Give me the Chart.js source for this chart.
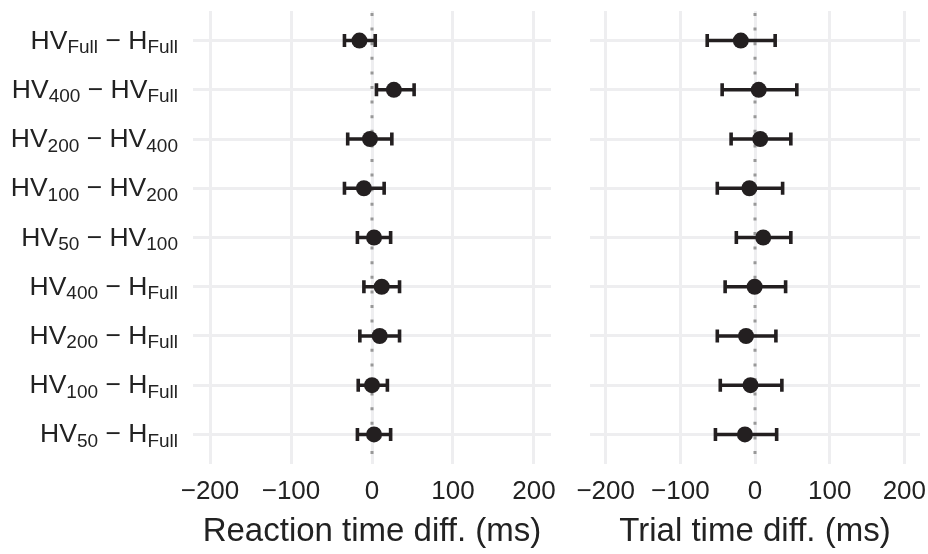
<!DOCTYPE html>
<html>
<head>
<meta charset="utf-8">
<script src="https://cdn.jsdelivr.net/npm/chart.js@4/dist/chart.umd.min.js"></script>
<style>
  html, body { margin: 0; padding: 0; background: #fff; }
  #wrap { position: relative; width: 928px; height: 554px; overflow: hidden; }
  canvas { position: absolute; top: 0; }
  #rtChart { left: 0; }
  #ttChart { left: 565px; }
</style>
</head>
<body>
<div id="wrap">
  <canvas id="rtChart" width="565" height="554"></canvas>
  <canvas id="ttChart" width="363" height="554"></canvas>
</div>
<script>
// comparisons, top row first: [name, subscript, name, subscript]
const comparisons = [
  ['HV', 'Full', 'H', 'Full'],
  ['HV', '400', 'HV', 'Full'],
  ['HV', '200', 'HV', '400'],
  ['HV', '100', 'HV', '200'],
  ['HV', '50', 'HV', '100'],
  ['HV', '400', 'H', 'Full'],
  ['HV', '200', 'H', 'Full'],
  ['HV', '100', 'H', 'Full'],
  ['HV', '50', 'H', 'Full'],
];

// reaction time differences (ms)
const rtMean = [-15.5, 27, -2.5, -10, 2.5, 12, 9.5, 0, 2.5];
const rtLow = [-34, 5.5, -30, -34, -18, -10, -15, -17, -18];
const rtHigh = [4, 52, 24.5, 15, 23, 34, 34, 19, 23];

// trial time differences (ms)
const ttMean = [-19, 5, 7, -7.5, 11, -0.5, -12, -6, -13.5];
const ttLow = [-64, -44, -32, -50.5, -25, -40, -50.5, -46.5, -53];
const ttHigh = [27, 56, 48, 37, 48, 41, 28, 36, 29];

const xTicks = [-200, -100, 0, 100, 200];

const FONT = "'Liberation Sans', Arial, Helvetica, sans-serif";
const TEXT = '#222222';
const INK = '#231f20';
const GRID = '#eeeef0';

// row 1 sits at the top
const rowPos = comparisons.map((_, i) => comparisons.length - i);

const errorBars = {
  id: 'errorBars',
  beforeDatasetsDraw(chart, args, opts) {
    const { ctx, scales: { x, y } } = chart;
    ctx.save();
    ctx.strokeStyle = INK;
    ctx.lineWidth = 3.6;
    opts.low.forEach((lo, i) => {
      const py = y.getPixelForValue(rowPos[i]);
      const x0 = x.getPixelForValue(lo);
      const x1 = x.getPixelForValue(opts.high[i]);
      ctx.beginPath();
      ctx.moveTo(x0, py); ctx.lineTo(x1, py);
      ctx.moveTo(x0, py - 6.5); ctx.lineTo(x0, py + 6.5);
      ctx.moveTo(x1, py - 6.5); ctx.lineTo(x1, py + 6.5);
      ctx.stroke();
    });
    ctx.restore();
  }
};

const zeroLine = {
  id: 'zeroLine',
  beforeDatasetsDraw(chart) {
    const { ctx, chartArea, scales: { x } } = chart;
    const px = x.getPixelForValue(0);
    ctx.save();
    ctx.strokeStyle = '#989898';
    ctx.lineWidth = 3;
    ctx.setLineDash([3, 11.6]);
    ctx.lineDashOffset = -2;
    ctx.beginPath();
    ctx.moveTo(px, chartArea.top);
    ctx.lineTo(px, chartArea.bottom);
    ctx.stroke();
    ctx.restore();
  }
};

// y labels with subscripts, right aligned to the left of the panel
const rowLabels = {
  id: 'rowLabels',
  afterDraw(chart, args, opts) {
    if (!opts.show) return;
    const { ctx, scales: { y } } = chart;
    const big = `26.5px ${FONT}`;
    const small = `19px ${FONT}`;
    ctx.save();
    ctx.fillStyle = TEXT;
    ctx.textBaseline = 'alphabetic';
    ctx.textAlign = 'left';
    comparisons.forEach((c, i) => {
      const base = y.getPixelForValue(rowPos[i]) + 8;
      const parts = [
        [c[0], big, 0], [c[1], small, 4.5], [' \u2212 ', big, 0],
        [c[2], big, 0], [c[3], small, 4.5]
      ];
      let w = 0;
      parts.forEach(p => { ctx.font = p[1]; w += ctx.measureText(p[0]).width; });
      let cx = opts.right - w;
      parts.forEach(p => {
        ctx.font = p[1];
        ctx.fillText(p[0], cx, base + p[2]);
        cx += ctx.measureText(p[0]).width;
      });
    });
    ctx.restore();
  }
};

function makeChart(id, title, mean, low, high, pad, labels) {
  return new Chart(document.getElementById(id), {
    type: 'scatter',
    data: {
      datasets: [{
        data: mean.map((v, i) => ({ x: v, y: rowPos[i] })),
        backgroundColor: INK,
        borderColor: INK,
        pointRadius: 8,
        pointHoverRadius: 8,
        borderWidth: 0,
      }],
    },
    options: {
      responsive: false,
      devicePixelRatio: 1,
      animation: false,
      events: [],
      layout: { padding: pad },
      plugins: {
        legend: { display: false },
        tooltip: { enabled: false },
        errorBars: { low, high },
        rowLabels: { show: labels, right: 178 },
      },
      scales: {
        x: {
          type: 'linear',
          min: -221,
          max: 221,
          afterBuildTicks: s => { s.ticks = xTicks.map(v => ({ value: v })); },
          afterFit: s => { s.height = 90; s.paddingLeft = 0; s.paddingRight = 0; },
          grid: { color: GRID, lineWidth: 3, drawTicks: false },
          border: { display: false },
          ticks: {
            color: TEXT,
            font: { family: FONT, size: 26 },
            padding: 12,
            maxRotation: 0,
            callback: v => String(v).replace('-', '\u2212'),
          },
          title: {
            display: true,
            text: title,
            color: TEXT,
            font: { family: FONT, size: 33 },
            padding: { top: 0, bottom: 2 },
          },
        },
        y: {
          type: 'linear',
          min: 0.4,
          max: comparisons.length + 0.6,
          afterBuildTicks: s => { s.ticks = rowPos.map(v => ({ value: v })); },
          afterFit: s => { s.width = 0; },
          grid: { color: GRID, lineWidth: 3, drawTicks: false },
          border: { display: false },
          ticks: { display: false },
        },
      },
    },
    plugins: [zeroLine, errorBars, rowLabels],
  });
}

makeChart('rtChart', 'Reaction time diff. (ms)', rtMean, rtLow, rtHigh,
  { left: 193, right: 14, top: 11, bottom: 0 }, true);
makeChart('ttChart', 'Trial time diff. (ms)', ttMean, ttLow, ttHigh,
  { left: 25, right: 8, top: 11, bottom: 0 }, false);
</script>
</body>
</html>
